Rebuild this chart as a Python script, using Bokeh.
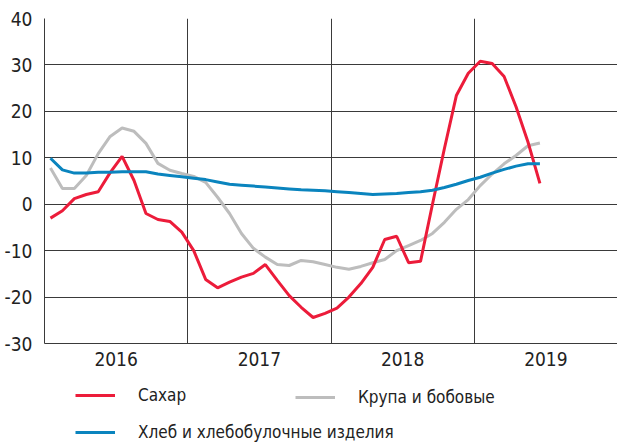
from bokeh.plotting import figure
from bokeh.models import Legend, LegendItem, FixedTicker, Range1d
from bokeh.layouts import column
from bokeh.embed import file_html
from bokeh.resources import INLINE

# Monthly data, Jan 2016 .. Jun 2019 (% y/y)
months = [i + 0.5 for i in range(42)]
sugar = [-3.0, -1.4, 1.2, 2.1, 2.7, 6.8, 10.3, 5.1, -2.0, -3.3, -3.7, -6.0,
         -10.0, -16.2, -18.0, -16.8, -15.7, -14.9, -13.0, -16.4, -19.7, -22.2, -24.4, -23.5,
         -22.4, -20.0, -17.1, -13.6, -7.6, -6.9, -12.6, -12.3, 0.0, 12.0, 23.4, 28.2,
         30.8, 30.3, 27.5, 21.0, 13.4, 4.5]
grain = [7.8, 3.4, 3.4, 6.2, 10.9, 14.6, 16.4, 15.7, 13.1, 8.8, 7.3, 6.6,
         6.0, 4.7, 1.5, -2.0, -6.3, -9.5, -11.4, -13.0, -13.2, -12.1, -12.4, -13.0,
         -13.6, -14.0, -13.4, -12.6, -11.9, -10.0, -8.9, -7.8, -6.3, -3.9, -1.1, 1.0,
         4.0, 6.5, 8.7, 10.5, 12.6, 13.2]
bread = [9.9, 7.4, 6.7, 6.7, 6.9, 6.9, 7.0, 7.0, 7.0, 6.5, 6.2, 5.9,
         5.6, 5.3, 4.8, 4.3, 4.1, 3.9, 3.7, 3.5, 3.3, 3.1, 3.0, 2.9,
         2.7, 2.5, 2.3, 2.1, 2.2, 2.3, 2.5, 2.7, 3.0, 3.6, 4.3, 5.1,
         5.8, 6.7, 7.5, 8.2, 8.7, 8.7]

series_names = ["Сахар", "Крупа и бобовые", "Хлеб и хлебобулочные изделия"]
colors = ["#EC1C3A", "#BDBDBD", "#0A84BE"]

year_labels = ["2016", "2017", "2018", "2019"]
year_centers = [6, 18, 30, 42]
year_bounds = [12, 24, 36]
y_ticks = [-30, -20, -10, 0, 10, 20, 30, 40]

FONT = "DejaVu Sans Condensed"
GRID = "#3a3a3a"
TXT = "#222222"

p = figure(width=617, height=372, output_backend="svg", toolbar_location=None,
           x_range=Range1d(0, 48), y_range=Range1d(-30, 40),
           min_border_left=44, min_border_right=0, min_border_top=18,
           min_border_bottom=29)
p.outline_line_color = None

r_sugar = p.line(months, sugar, line_color=colors[0], line_width=3)
r_grain = p.line(months, grain, line_color=colors[1], line_width=3)
r_bread = p.line(months, bread, line_color=colors[2], line_width=3)
p.renderers = [r_grain, r_sugar, r_bread]

# y axis
p.yaxis.ticker = FixedTicker(ticks=y_ticks)
p.yaxis.major_label_overrides = {t: str(t) for t in y_ticks}
p.yaxis.axis_line_color = GRID
p.yaxis.major_tick_line_color = None
p.yaxis.minor_tick_line_color = None
p.yaxis.major_label_text_font = FONT
p.yaxis.major_label_text_font_size = "19px"
p.yaxis.major_label_text_color = TXT
p.yaxis.major_label_standoff = 6

# x axis
p.xaxis.ticker = FixedTicker(ticks=year_centers)
p.xaxis.major_label_overrides = {c: l for c, l in zip(year_centers, year_labels)}
p.xaxis.axis_line_color = GRID
p.xaxis.major_tick_line_color = None
p.xaxis.minor_tick_line_color = None
p.xaxis.major_label_text_font = FONT
p.xaxis.major_label_text_font_size = "19px"
p.xaxis.major_label_text_color = TXT
p.xaxis.major_label_standoff = 2

p.xgrid.ticker = FixedTicker(ticks=year_bounds)
p.xgrid.grid_line_color = GRID
p.xgrid.grid_line_width = 1
p.ygrid.grid_line_color = GRID
p.ygrid.grid_line_width = 1

# legend panel (its frame is aligned with the chart frame by the column layout)
lg = figure(width=617, height=71, output_backend="svg", toolbar_location=None,
            x_axis_type=None, y_axis_type=None,
            x_range=Range1d(0, 48), y_range=Range1d(1000, 1001),
            min_border=0)
lg.outline_line_color = None
lg.xgrid.visible = False
lg.ygrid.visible = False
lr = [lg.line(months, s, line_color=c, line_width=3)
      for s, c in zip([sugar, grain, bread], colors)]


def make_legend(items, loc):
    L = Legend(items=items, location=loc)
    L.label_text_font = FONT
    L.label_text_font_size = "17px"
    L.label_text_color = TXT
    L.glyph_width = 40
    L.glyph_height = 18
    L.label_height = 18
    L.label_standoff = 23
    L.spacing = 17
    L.padding = 0
    L.margin = 0
    L.border_line_color = None
    L.background_fill_alpha = 0
    return L


leg1 = make_legend([LegendItem(label=series_names[0], renderers=[lr[0]]),
                    LegendItem(label=series_names[2], renderers=[lr[2]])], (31, 1))
leg2 = make_legend([LegendItem(label=series_names[1], renderers=[lr[1]])], (251, 36))
lg.add_layout(leg1, "center")
lg.add_layout(leg2, "center")

layout = column(p, lg, spacing=0)
open("out.html", "w").write(file_html(layout, INLINE))
